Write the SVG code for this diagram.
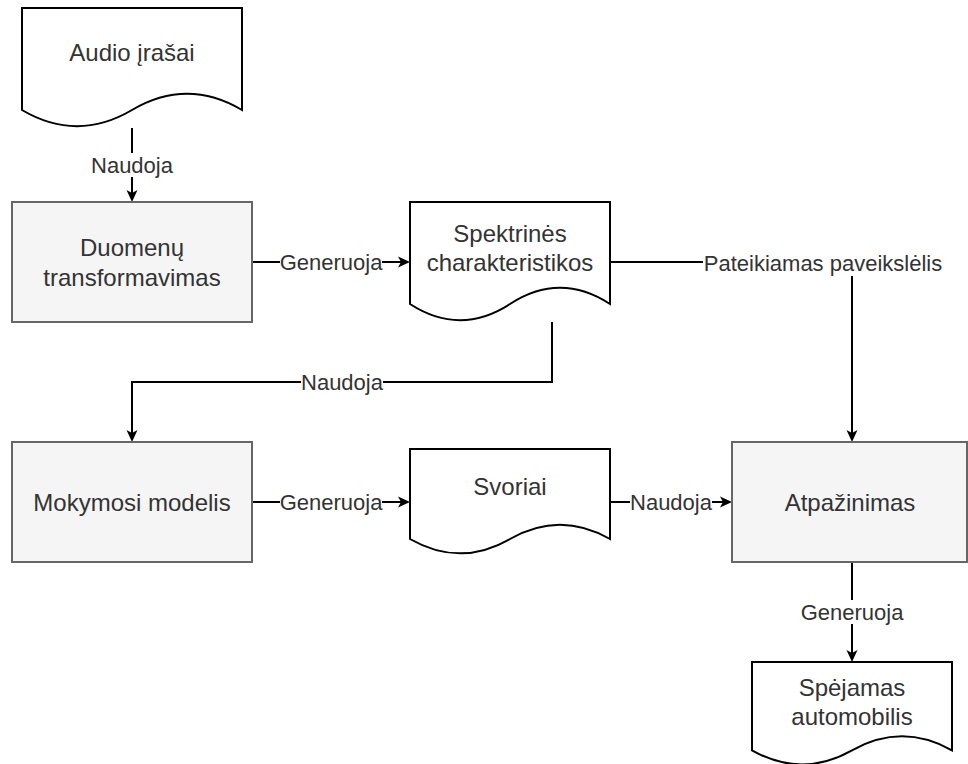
<svg xmlns="http://www.w3.org/2000/svg" width="968" height="764" viewBox="0 0 968 764">
<style>
.box{fill:#f5f5f5;stroke:#666666;stroke-width:2}
.doc{fill:#ffffff;stroke:#000000;stroke-width:2}
.t{font-family:"Liberation Sans",Arial,sans-serif;font-size:24px;fill:#333333;text-anchor:middle}
.e{fill:none;stroke:#000000;stroke-width:2}
.lb{fill:#ffffff}
.lt{font-family:"Liberation Sans",Arial,sans-serif;font-size:22px;fill:#333333;text-anchor:middle}
</style>
<defs>
<marker id="arr" viewBox="0 0 12 12" refX="8" refY="6" markerWidth="12" markerHeight="12" markerUnits="userSpaceOnUse" orient="auto">
<path d="M0,0.5 L12,6 L0,11.5 L3,6 Z" fill="#000000"/>
</marker>
</defs>
<rect width="968" height="764" fill="#ffffff"/>
<g id="connectors">
<path class="e" d="M132,128 V198" marker-end="url(#arr)"/>
<path class="e" d="M252,262 H406" marker-end="url(#arr)"/>
<path class="e" d="M610,262 H852 V438" marker-end="url(#arr)"/>
<path class="e" d="M552,322 V382 H132 V438" marker-end="url(#arr)"/>
<path class="e" d="M252,502 H406" marker-end="url(#arr)"/>
<path class="e" d="M610,502 H728" marker-end="url(#arr)"/>
<path class="e" d="M852,562 V658" marker-end="url(#arr)"/>
<rect class="lb" x="91" y="153" width="82" height="24"/>
<text class="lt" x="132" y="173">Naudoja</text>
<rect class="lb" x="280" y="250" width="102" height="24"/>
<text class="lt" x="331" y="270">Generuoja</text>
<rect class="lb" x="703" y="251" width="240" height="25"/>
<text class="lt" x="823" y="271">Pateikiamas paveikslėlis</text>
<rect class="lb" x="301" y="370" width="82" height="24"/>
<text class="lt" x="342" y="390">Naudoja</text>
<rect class="lb" x="280" y="490" width="102" height="24"/>
<text class="lt" x="331" y="510">Generuoja</text>
<rect class="lb" x="630" y="490" width="82" height="24"/>
<text class="lt" x="671" y="510">Naudoja</text>
<rect class="lb" x="801" y="600" width="102" height="24"/>
<text class="lt" x="852" y="620">Generuoja</text>
</g>
<g id="audio">
<path class="doc" d="M22,8 H242 V110 Q187,77.6 132,110 Q77,142.4 22,110 Z"/>
<text class="t" x="132" y="61">Audio įrašai</text>
</g>
<g id="duomenu">
<rect class="box" x="12" y="202" width="240" height="120"/>
<text class="t" x="132" y="256">Duomenų</text>
<text class="t" x="132" y="286">transformavimas</text>
</g>
<g id="spektrines">
<path class="doc" d="M410,202 H610 V304 Q560,271.6 510,304 Q460,336.4 410,304 Z"/>
<text class="t" x="510" y="242">Spektrinės</text>
<text class="t" x="510" y="271">charakteristikos</text>
</g>
<g id="mokymosi">
<rect class="box" x="12" y="442" width="240" height="120"/>
<text class="t" x="132" y="511">Mokymosi modelis</text>
</g>
<g id="svoriai">
<path class="doc" d="M410,449 H610 V539 Q560,510.5 510,539 Q460,567.7 410,539 Z"/>
<text class="t" x="510" y="495">Svoriai</text>
</g>
<g id="atpazinimas">
<rect class="box" x="732" y="442" width="235" height="120"/>
<text class="t" x="850" y="511">Atpažinimas</text>
</g>
<g id="spejamas">
<path class="doc" d="M752,662 H952 V750.4 Q902,722.3 852,750.4 Q802,778.5 752,750.4 Z"/>
<text class="t" x="852" y="696">Spėjamas</text>
<text class="t" x="852" y="725">automobilis</text>
</g>
</svg>
